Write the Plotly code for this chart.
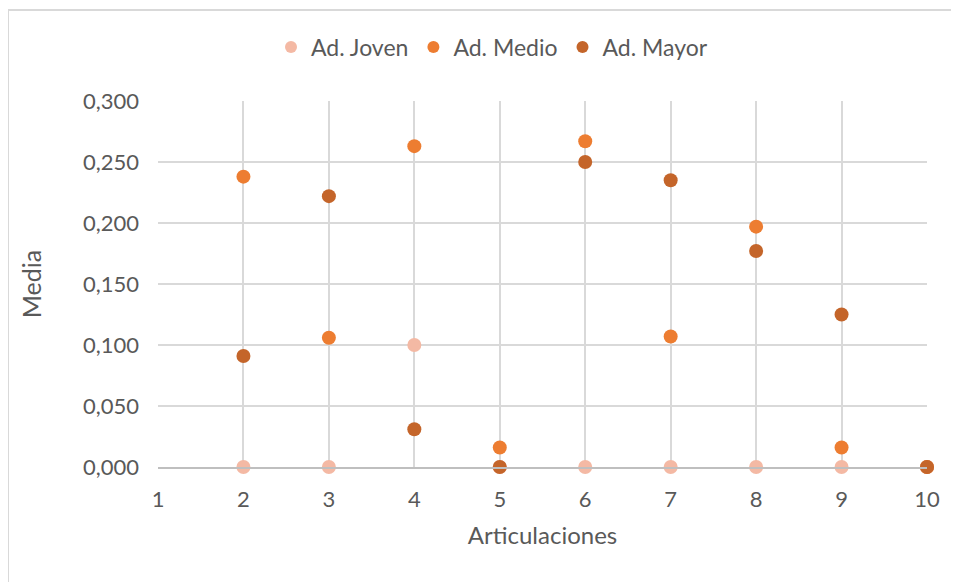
import plotly.graph_objects as go

x_vals = [2, 3, 4, 5, 6, 7, 8, 9, 10]
joven = [0.000, 0.000, 0.100, 0.000, 0.000, 0.000, 0.000, 0.000, 0.000]
medio = [0.238, 0.106, 0.263, 0.016, 0.267, 0.107, 0.197, 0.016, 0.000]
mayor = [0.091, 0.222, 0.031, 0.000, 0.250, 0.235, 0.177, 0.125, 0.000]
series_names = ["Ad. Joven", "Ad. Medio", "Ad. Mayor"]
colors = ["#F4B9A4", "#ED7D31", "#C4652A"]
x_ticks = list(range(1, 11))
y_ticks = [0, 0.05, 0.10, 0.15, 0.20, 0.25, 0.30]

fig = go.Figure()
for name, vals, col in zip(series_names, [joven, medio, mayor], colors):
    fig.add_trace(go.Scatter(
        x=x_vals, y=vals, mode="markers", name=name,
        marker=dict(size=14, color=col, line=dict(width=0)),
        cliponaxis=False,
    ))

# page body has an 8px margin; plot area target: x 158..927, y 101..467 (window px)
off = 8
W, H = 959 - off, 582 - off
L, T = 158 - off, 101 - off
R = W - (927 - off)
B = H - (467 - off)
pw, ph = 927 - 158, 467 - 101

font_family = "Lato, 'Open Sans', sans-serif"
fig.update_layout(
    width=W, height=H,
    margin=dict(l=L, r=R, t=T, b=B),
    paper_bgcolor="white", plot_bgcolor="white",
    separators=",.",
    font=dict(family=font_family, size=21, color="#595959"),
    showlegend=True,
    legend=dict(orientation="h", x=(492 - 158) / pw, xanchor="center",
                y=(467 - 47) / ph, yanchor="middle",
                font=dict(size=23, color="#595959"), itemsizing="constant",
                traceorder="normal"),
    xaxis=dict(range=[1, 10], tickvals=x_ticks, showgrid=True, gridcolor="#D9D9D9",
               gridwidth=2, zeroline=False, showline=True, linecolor="#BFBFBF", linewidth=2,
               ticks="", ticklabelstandoff=12, tickfont=dict(size=22, color="#595959"),
               title=dict(text="Articulaciones", font=dict(size=24, color="#595959"), standoff=16)),
    yaxis=dict(range=[0, 0.3], tickvals=y_ticks, tickformat=".3f", showgrid=True,
               gridcolor="#D9D9D9", gridwidth=2, zeroline=False, showline=False,
               ticks="", ticklabelstandoff=18, tickfont=dict(size=22, color="#595959"),
               title=dict(text="Media", font=dict(size=25, color="#595959"), standoff=34)),
    shapes=[dict(type="rect", xref="paper", yref="paper",
                 x0=(8 - 158) / pw, x1=(975 - 158) / pw,
                 y0=(467 - 600) / ph, y1=(467 - 10) / ph,
                 line=dict(color="#D9D9D9", width=2), fillcolor="rgba(0,0,0,0)", layer="below")],
)

fig.write_html("out.html")
